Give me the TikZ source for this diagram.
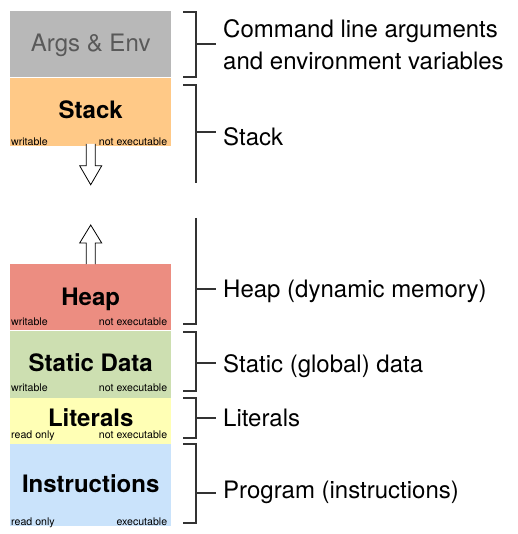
\documentclass[tikz,border=0pt]{standalone}
\usepackage{fontspec}
\setmainfont{TeX Gyre Heros}
\usetikzlibrary{positioning}

\definecolor{argsgray}{HTML}{B8B8B8}
\definecolor{stackorange}{HTML}{FFC987}
\definecolor{heapred}{HTML}{EC8D81}
\definecolor{staticgreen}{HTML}{CDDFB1}
\definecolor{lityellow}{HTML}{FFFFB5}
\definecolor{instrblue}{HTML}{CAE3FB}

% small flags in the bottom corners of a segment: box, left, right, raise
\newcommand\segflags[4]{%
  \node[flag,anchor=base west] (#1-l) at ([xshift=1pt,yshift=#4pt]#1.south west) {#2};
  \node[flag,anchor=base east] (#1-r) at ([xshift=-4pt,yshift=#4pt]#1.south east) {#3};}

\begin{document}
\begin{tikzpicture}[x=1pt,y=-1pt,
  seg/.style={rectangle,inner sep=0pt,minimum width=161pt,text height=17pt,text depth=3pt,
    font=\bfseries\fontsize{24}{28}\selectfont},
  flag/.style={inner sep=0pt,font=\fontsize{10.6}{12}\selectfont},
  lbl/.style={inner sep=0pt,font=\fontsize{24}{32}\selectfont,align=left},
  brk/.style={draw=black!80,line width=1.1pt},
  hollow/.style={draw=black,line width=0.8pt,fill=white,line join=miter}]
  \useasboundingbox (0,0) rectangle (517,534);

  % memory segments
  \node[seg,fill=argsgray,minimum height=66pt,anchor=north west,
    font=\fontsize{24}{28}\selectfont,text=black!65] (args) at (10,11) {Args \& Env};
  \node[seg,fill=stackorange,minimum height=68pt,below=0pt of args] (stack) {Stack};
  \node[seg,fill=heapred,minimum height=66pt,text depth=0pt,anchor=north west] (heap) at (10,264) {Heap};
  \node[seg,fill=staticgreen,minimum height=67pt,below=0pt of heap] (static) {Static Data};
  \node[seg,fill=lityellow,minimum height=46pt,text depth=7pt,below=0pt of static] (literals) {Literals};
  \node[seg,fill=instrblue,minimum height=82pt,below=0pt of literals] (instr) {Instructions};

  \segflags{stack}{writable}{not executable}{0}
  \segflags{heap}{writable}{not executable}{5}
  \segflags{static}{writable}{not executable}{6}
  \segflags{literals}{read only}{not executable}{6}
  \segflags{instr}{read only}{executable}{1}

  % growth arrows
  \draw[hollow] (stack.south) ++(-4.5,-2) -- ++(0,22) -- ++(-6.5,0) -- ++(11,19)
    -- ++(11,-19) -- ++(-6.5,0) -- ++(0,-22);
  \draw[hollow] (heap.north) ++(-4.5,0) -- ++(0,-21) -- ++(-6.5,0) -- ++(11,-18)
    -- ++(11,18) -- ++(-6.5,0) -- ++(0,21);

  % labels
  \node[lbl,anchor=north west] (largs) at (223,19) {Command line arguments\\and environment variables};
  \node[lbl,anchor=base west] (lstack) at (223,146) {Stack};
  \node[lbl,anchor=base west] (lheap) at (223,297) {Heap (dynamic memory)};
  \node[lbl,anchor=base west] (lstatic) at (223,372) {Static (global) data};
  \node[lbl,anchor=base west] (llit) at (223,426) {Literals};
  \node[lbl,anchor=base west] (lprog) at (223,498) {Program (instructions)};

  % brackets
  \draw[brk] (183,12) -| (196,77) -- (183,77) (196,44) -- (216,44);
  \draw[brk] (183,85) -| (196,183) (196,132) -- (216,132);
  \draw[brk] (196,218) |- (183,324) (196,289) -- (216,289);
  \draw[brk] (183,332) -| (196,391) -- (183,391) (196,363) -- (216,363);
  \draw[brk] (183,398) -| (196,438) -- (183,438) (196,418) -- (216,418);
  \draw[brk] (183,444) -| (196,523) -- (183,523) (196,493) -- (216,493);
\end{tikzpicture}
\end{document}
